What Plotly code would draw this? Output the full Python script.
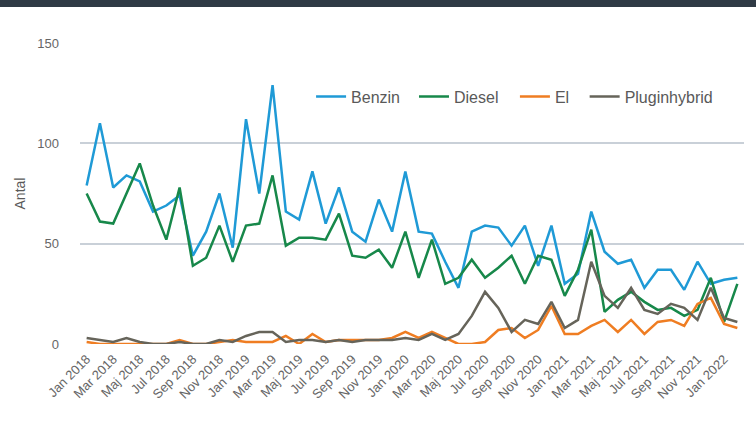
import plotly.graph_objects as go

categories = [
    "Jan 2018", "Feb 2018", "Mar 2018", "Apr 2018", "Maj 2018", "Jun 2018",
    "Jul 2018", "Aug 2018", "Sep 2018", "Okt 2018", "Nov 2018", "Dec 2018",
    "Jan 2019", "Feb 2019", "Mar 2019", "Apr 2019", "Maj 2019", "Jun 2019",
    "Jul 2019", "Aug 2019", "Sep 2019", "Okt 2019", "Nov 2019", "Dec 2019",
    "Jan 2020", "Feb 2020", "Mar 2020", "Apr 2020", "Maj 2020", "Jun 2020",
    "Jul 2020", "Aug 2020", "Sep 2020", "Okt 2020", "Nov 2020", "Dec 2020",
    "Jan 2021", "Feb 2021", "Mar 2021", "Apr 2021", "Maj 2021", "Jun 2021",
    "Jul 2021", "Aug 2021", "Sep 2021", "Okt 2021", "Nov 2021", "Dec 2021",
    "Jan 2022", "Feb 2022",
]

benzin = [79, 110, 78, 84, 81, 66, 69, 74, 44, 56,
          75, 48, 112, 75, 129, 66, 62, 86, 60, 78,
          56, 51, 72, 56, 86, 56, 55, 41, 28, 56,
          59, 58, 49, 59, 39, 59, 30, 35, 66, 46,
          40, 42, 28, 37, 37, 27, 41, 30, 32, 33]

diesel = [75, 61, 60, 75, 90, 69, 52, 78, 39, 43,
          59, 41, 59, 60, 84, 49, 53, 53, 52, 65,
          44, 43, 47, 38, 56, 33, 52, 30, 33, 42,
          33, 38, 44, 30, 44, 42, 24, 37, 57, 16,
          22, 26, 21, 17, 18, 14, 17, 33, 11, 30]

el = [1, 0, 0, 0, 0, 0, 0, 2, 0, 0,
      1, 2, 1, 1, 1, 4, 0, 5, 1, 2,
      2, 2, 2, 3, 6, 3, 6, 3, 0, 0,
      1, 7, 8, 3, 7, 19, 5, 5, 9, 12,
      6, 12, 5, 11, 12, 9, 20, 23, 10, 8]

pluginhybrid = [3, 2, 1, 3, 1, 0, 0, 1, 0, 0,
                2, 1, 4, 6, 6, 1, 2, 2, 1, 2,
                1, 2, 2, 2, 3, 2, 5, 2, 5, 14,
                26, 18, 6, 12, 10, 21, 8, 12, 41, 24,
                18, 28, 17, 15, 20, 18, 12, 28, 13, 11]

tick_labels = categories[::2]
y_ticks = [0, 50, 100, 150]

series_names = ["Benzin", "Diesel", "El", "Pluginhybrid"]
series_values = [benzin, diesel, el, pluginhybrid]
series_colors = ["#1f9ad6", "#17884a", "#ef7d22", "#66645a"]
legend_x = [0.348, 0.503, 0.655, 0.760]

FONT = "Liberation Sans, Arial, sans-serif"

fig = go.Figure()
legend_ids = ["legend", "legend2", "legend3", "legend4"]
for name, vals, color, lid in zip(series_names, series_values, series_colors, legend_ids):
    fig.add_trace(go.Scatter(
        x=categories, y=vals, name=name, mode="lines",
        line=dict(color=color, width=2.5), legend=lid,
    ))

legend_layout = {}
for lid, lx in zip(legend_ids, legend_x):
    legend_layout[lid] = dict(
        orientation="h", x=lx, y=0.8216, xanchor="left", yanchor="middle",
        font=dict(size=16, color="#595959"), bgcolor="rgba(0,0,0,0)",
        itemwidth=30,
    )

fig.update_layout(
    width=756, height=426,
    margin=dict(l=80, r=12, t=43, b=82),
    paper_bgcolor="white", plot_bgcolor="white",
    font=dict(family=FONT, color="#666666", size=13),
    showlegend=True,
    shapes=[dict(type="rect", xref="paper", yref="paper",
                 x0=-0.2, x1=1.1, y0=1.1196, y1=1.16,
                 fillcolor="#2f3a45", line=dict(width=0), layer="above")],
    **legend_layout,
)

fig.update_xaxes(
    type="category", range=[-0.5, len(categories) - 0.5],
    tickmode="array", tickvals=tick_labels, ticktext=tick_labels,
    tickangle=-45, tickfont=dict(size=13, color="#666666"),
    showgrid=False, showline=False, zeroline=False, ticks="",
    ticklabelstandoff=4,
)
fig.update_yaxes(
    range=[0, 150], tickvals=y_ticks,
    showgrid=True, gridcolor="#c9d0d8", gridwidth=1.5,
    zeroline=False, showline=False, ticks="",
    tickfont=dict(size=13, color="#666666"), ticklabelstandoff=20,
    title=dict(text="Antal", font=dict(size=14, color="#595959"), standoff=8),
)

fig.write_html("out.html", config={"displayModeBar": False},
               post_script="document.body.style.margin='0';")
